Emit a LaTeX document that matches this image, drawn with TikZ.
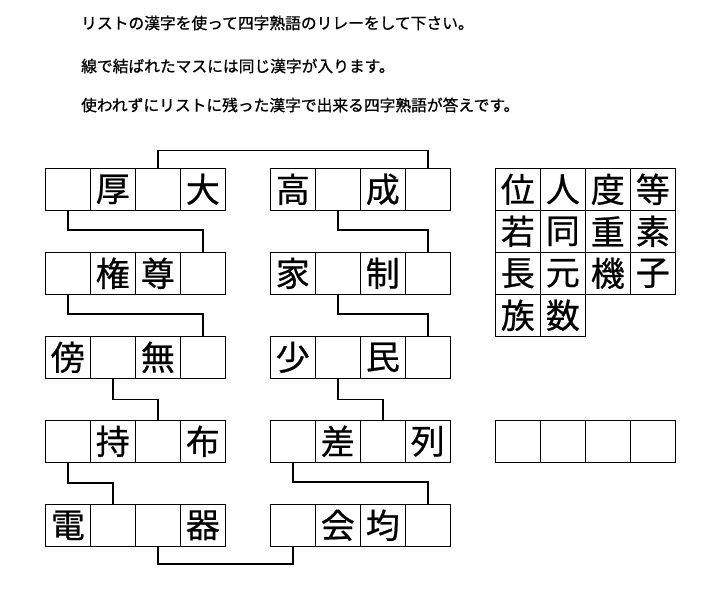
\documentclass[tikz,border=0pt]{standalone}
\usepackage{fontspec}
\setmainfont{Noto Sans CJK JP}
\newfontfamily\cellfont[FakeBold=0.6]{Noto Sans CJK JP}
\newfontfamily\notefont[FakeBold=0.9]{Noto Sans CJK JP}
\tikzstyle{cell}=[draw,line width=0.8pt,minimum width=45pt,minimum height=42pt,inner sep=0pt,font=\cellfont\fontsize{34}{34}\selectfont]
\tikzstyle{edge} = [draw,line width=1.6pt,-]
\tikzstyle{note}=[anchor=west,inner sep=0pt,font=\notefont\fontsize{15.75}{16}\selectfont]

\begin{document}
\begin{tikzpicture}[x=1pt,y=-1pt]
        \useasboundingbox (0,0) rectangle (721,589);
        \node[note] (line1) at (81,23) {リストの漢字を使って四字熟語のリレーをして下さい。};
        \node[note] (line2) at (81,66) {線で結ばれたマスには同じ漢字が入ります。};
        \node[note] (line3) at (81,105) {使われずにリストに残った漢字で出来る四字熟語が答えです。};
        % left column
        \foreach \c [count=\i] in {{},厚,{},大} \node[cell] (L1\i) at (22.8+45*\i,189.3) {\c};
        \foreach \c [count=\i] in {{},権,尊,{}} \node[cell] (L2\i) at (22.8+45*\i,273.3) {\c};
        \foreach \c [count=\i] in {傍,{},無,{}} \node[cell] (L3\i) at (22.8+45*\i,357.3) {\c};
        \foreach \c [count=\i] in {{},持,{},布} \node[cell] (L4\i) at (22.8+45*\i,441.3) {\c};
        \foreach \c [count=\i] in {電,{},{},器} \node[cell] (L5\i) at (22.8+45*\i,525.3) {\c};
        % middle column
        \foreach \c [count=\i] in {高,{},成,{}} \node[cell] (M1\i) at (247.8+45*\i,189.3) {\c};
        \foreach \c [count=\i] in {家,{},制,{}} \node[cell] (M2\i) at (247.8+45*\i,273.3) {\c};
        \foreach \c [count=\i] in {少,{},民,{}} \node[cell] (M3\i) at (247.8+45*\i,357.3) {\c};
        \foreach \c [count=\i] in {{},差,{},列} \node[cell] (M4\i) at (247.8+45*\i,441.3) {\c};
        \foreach \c [count=\i] in {{},会,均,{}} \node[cell] (M5\i) at (247.8+45*\i,525.3) {\c};
        % list
        \foreach \c [count=\i] in {位,人,度,等} \node[cell] (K1\i) at (472.8+45*\i,189.3) {\c};
        \foreach \c [count=\i] in {若,同,重,素} \node[cell] (K2\i) at (472.8+45*\i,231.3) {\c};
        \foreach \c [count=\i] in {長,元,機,子} \node[cell] (K3\i) at (472.8+45*\i,273.3) {\c};
        \foreach \c [count=\i] in {族,数} \node[cell] (K4\i) at (472.8+45*\i,315.3) {\c};
        % answer
        \foreach \i in {1,...,4} \node[cell] (A\i) at (472.8+45*\i,441.3) {};
        % links
        \draw[edge] (L13.north) -- ++(0,-17.6) -| (M14.north);
        \draw[edge] (L11.south) -- ++(0,19) -| (L24.north);
        \draw[edge] (M12.south) -- ++(0,19) -| (M24.north);
        \draw[edge] (L21.south) -- ++(0,19) -| (L34.north);
        \draw[edge] (M22.south) -- ++(0,19) -| (M34.north);
        \draw[edge] (L32.south) -- ++(0,20.7) -| (L43.north);
        \draw[edge] (M32.south) -- ++(0,20.7) -| (M43.north);
        \draw[edge] (L41.south) -- ++(0,20.2) -| (L52.north);
        \draw[edge] (M41.south) -- ++(0,19.4) -| (M54.north);
        \draw[edge] (L53.south) -- ++(0,17) -| (M51.south);
      \end{tikzpicture}
\end{document}
